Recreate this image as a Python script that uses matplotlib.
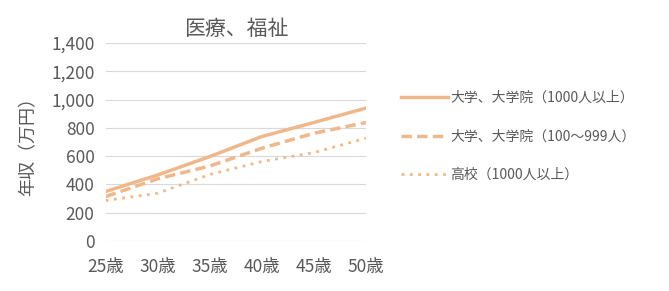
import matplotlib
matplotlib.use("Agg")
import matplotlib.pyplot as plt

plt.rcParams['font.family'] = ['Noto Sans CJK JP', 'DejaVu Sans']

ages = [25, 30, 35, 40, 45, 50]
age_labels = ['25歳', '30歳', '35歳', '40歳', '45歳', '50歳']
univ_large = [350, 467, 597, 739, 838, 940]
univ_mid = [314, 440, 530, 656, 762, 838]
high_large = [286, 338, 470, 562, 625, 727]
yticks = [0, 200, 400, 600, 800, 1000, 1200, 1400]

col = '#F0B88A'
txt = '#595959'

fig = plt.figure(figsize=(6.69, 2.91), dpi=100)
ax = fig.add_axes([0.158, 0.172, 0.389, 0.680])

ax.plot(ages, univ_large, color=col, lw=2.5, label='大学、大学院（1000人以上）')
ax.plot(ages, univ_mid, color=col, lw=2.5, ls=(0, (3, 1.5)), label='大学、大学院（100〜999人）')
ax.plot(ages, high_large, color=col, lw=2, ls=(0, (1, 2)), label='高校（1000人以上）')

ax.set_xlim(25, 50)
ax.set_ylim(0, 1400)
ax.set_yticks(yticks)
ax.set_yticklabels([f'{v:,}' for v in yticks])
ax.set_xticks(ages)
ax.set_xticklabels(age_labels)
ax.grid(axis='y', color='#D9D9D9', lw=0.8)
ax.set_axisbelow(True)
for s in ax.spines.values():
    s.set_visible(False)
ax.tick_params(length=0, labelsize=12.5, colors=txt, pad=8)
ax.tick_params(axis='x', pad=12)

ax.set_title('医療、福祉', fontsize=15, color=txt, pad=6)
ax.set_ylabel('年収（万円）', fontsize=13, color=txt, labelpad=10)

leg = fig.legend(loc='upper left', bbox_to_anchor=(0.58, 0.73), frameon=False,
                 fontsize=10, handlelength=3.4, handletextpad=0.2, labelspacing=1.75)
for t in leg.get_texts():
    t.set_color(txt)

fig.savefig('out.png', dpi=100)
